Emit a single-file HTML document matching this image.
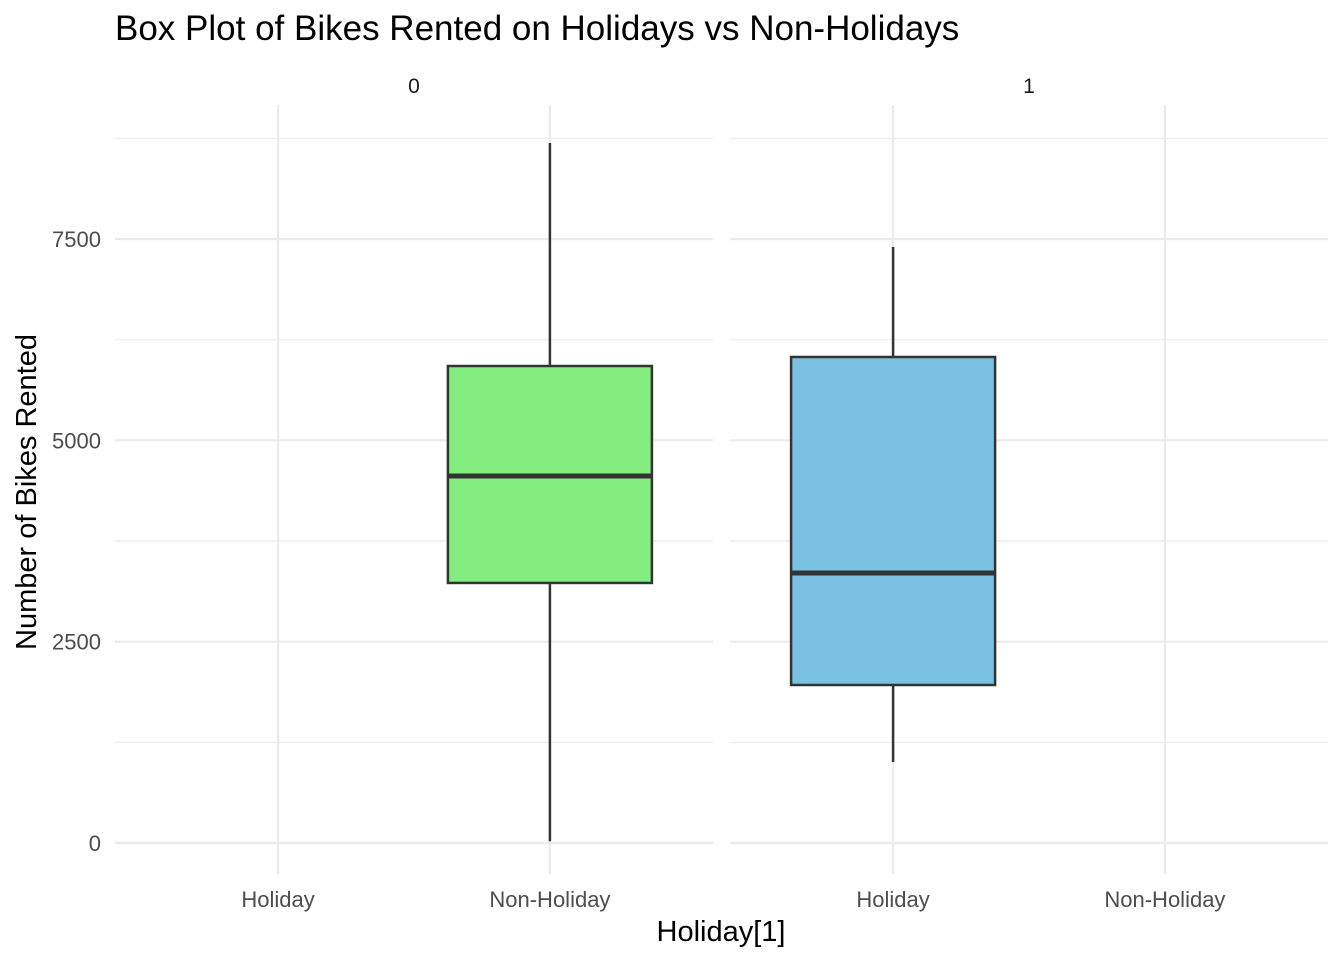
<!DOCTYPE html>
<html><head><meta charset="utf-8"><style>
body{margin:0;background:#fff;font-family:"Liberation Sans",Arial,sans-serif}
</style></head><body>
<svg id="chart" width="1344" height="960" xmlns="http://www.w3.org/2000/svg">
<text x="115" y="40" font-size="35" fill="#000">Box Plot of Bikes Rented on Holidays vs Non-Holidays</text>
<text x="414" y="93" font-size="21" fill="#1a1a1a" text-anchor="middle">0</text>
<text x="1029" y="93" font-size="21" fill="#1a1a1a" text-anchor="middle">1</text>
<text x="721" y="941" font-size="29" fill="#000" text-anchor="middle">Holiday[1]</text>
<text transform="translate(36,492) rotate(-90)" font-size="29" fill="#000" text-anchor="middle">Number of Bikes Rented</text>
<g id="g"></g>
</svg>
<script>
const categories=["Holiday","Non-Holiday"];
const panels=["0","1"];
const yTicks=[0,2500,5000,7500];
const yMinor=[1250,3750,6250,8750];
// boxes: panel index, category index, lower, q1, median, q3, upper
const boxPanel=[0,1];
const boxCat=[1,0];
const lowerW=[22,1006];
const q1=[3229,1962];
const med=[4557,3353];
const q3=[5923,6035];
const upperW=[8692,7401];
const fills=["#83ED7F","#7AC2E3"];
const NS="http://www.w3.org/2000/svg";
const g=document.getElementById('g');
const panelX=[115,730],panelW=598;
const y=v=>843-v*0.080533;
const x=(p,c)=>panelX[p]+(c+1-0.4)*panelW/2.2;
function el(t,a){const e=document.createElementNS(NS,t);for(const k in a)e.setAttribute(k,a[k]);g.appendChild(e);return e;}
panels.forEach((p,pi)=>{
  yMinor.forEach(v=>{const e=el('line',{x1:panelX[pi],x2:panelX[pi]+panelW,y1:y(v),y2:y(v),stroke:'#ebebeb','stroke-width':1.2});
  });
  yTicks.forEach(v=>{const e=el('line',{x1:panelX[pi],x2:panelX[pi]+panelW,y1:y(v),y2:y(v),stroke:'#ebebeb','stroke-width':2.2});
  });
  categories.forEach((c,ci)=>{const e=el('line',{x1:x(pi,ci),x2:x(pi,ci),y1:105,y2:874,stroke:'#ebebeb','stroke-width':2.2});
  
  const t=el('text',{x:x(pi,ci),y:907,'font-size':22,fill:'#4d4d4d','text-anchor':'middle'});t.textContent=c;
  });
});
yTicks.forEach(v=>{const t=el('text',{x:101,y:y(v)+8,'font-size':22,fill:'#4d4d4d','text-anchor':'end'});t.textContent=v;
});
const bw=102;
boxPanel.forEach((p,i)=>{
  const cx=x(p,boxCat[i]);
  const w1=el('line',{x1:cx,x2:cx,y1:y(q3[i]),y2:y(upperW[i]),stroke:'#333','stroke-width':2.5});
  
  const w2=el('line',{x1:cx,x2:cx,y1:y(q1[i]),y2:y(lowerW[i]),stroke:'#333','stroke-width':2.5});
  
  const r=el('rect',{x:cx-bw,y:y(q3[i]),width:2*bw,height:y(q1[i])-y(q3[i]),fill:fills[i],stroke:'#333','stroke-width':2.5});
  
  const m=el('line',{x1:cx-bw,x2:cx+bw,y1:y(med[i]),y2:y(med[i]),stroke:'#333','stroke-width':5});
  
});
</script>
</body></html>
